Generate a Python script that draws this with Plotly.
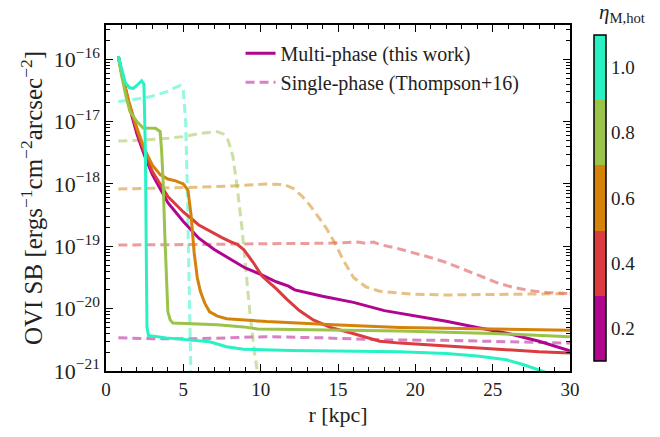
import plotly.graph_objects as go

# ---------------- data ----------------
eta_values = [0.2, 0.4, 0.6, 0.8, 1.0]
eta_labels = ["0.2", "0.4", "0.6", "0.8", "1.0"]
eta_colors = ["#b0058e", "#dc3b3f", "#d4820a", "#9bc34a", "#28f2c4"]

# Multi-phase (solid)
r_m02 = [0.8, 1.0, 1.5, 2.0, 2.5, 3.0, 4.0, 5.0, 6.0, 7.0, 8.0, 9.0, 10.0, 11.0, 11.8, 12.2, 14.0, 16.0, 18.0, 20.0, 22.0, 24.0, 26.0, 28.0, 30.0]
sb_m02 = [1.12e-16, 6.3e-17, 1.78e-17, 6.3e-18, 2.82e-18, 1.41e-18, 5.0e-19, 2.5e-19, 1.35e-19, 8.9e-20, 6.3e-20, 4.5e-20, 3.55e-20, 2.7e-20, 2.3e-20, 2.0e-20, 1.58e-20, 1.26e-20, 9.3e-21, 7.6e-21, 6.3e-21, 5.0e-21, 4.0e-21, 3.0e-21, 2.1e-21]

r_m04 = [0.8, 1.0, 1.5, 2.0, 2.5, 3.0, 4.0, 5.0, 6.0, 7.0, 7.5, 8.0, 8.5, 8.9, 9.5, 10.1, 11.0, 11.7, 12.5, 13.4, 14.5, 15.8, 17.7, 19.0, 22.0, 25.0, 28.0, 30.0]
sb_m04 = [1.12e-16, 6.3e-17, 1.9e-17, 7.1e-18, 3.16e-18, 1.58e-18, 6.3e-19, 3.55e-19, 2.2e-19, 1.58e-19, 1.38e-19, 1.2e-19, 1.07e-19, 8.9e-20, 5.6e-20, 3.3e-20, 2.1e-20, 1.41e-20, 9.3e-21, 6.6e-21, 5.0e-21, 4.1e-21, 3.0e-21, 2.8e-21, 2.5e-21, 2.24e-21, 2.04e-21, 1.95e-21]

r_m06 = [0.8, 1.0, 1.5, 2.0, 2.5, 3.0, 3.5, 4.0, 4.5, 5.0, 5.3, 5.5, 5.7, 5.9, 6.1, 6.4, 6.7, 7.2, 7.8, 9.0, 10.4, 14.7, 19.0, 25.0, 30.0]
sb_m06 = [1.12e-16, 6.3e-17, 2.0e-17, 7.9e-18, 3.55e-18, 2.0e-18, 1.41e-18, 1.2e-18, 1.12e-18, 1.0e-18, 7.9e-19, 3.16e-19, 7.9e-20, 3.16e-20, 1.9e-20, 1.2e-20, 8.9e-21, 7.6e-21, 6.9e-21, 6.5e-21, 6.2e-21, 5.5e-21, 5.0e-21, 4.7e-21, 4.5e-21]

r_m08 = [0.8, 1.0, 1.3, 1.55, 2.0, 2.4, 3.2, 3.5, 3.6, 3.7, 3.8, 3.9, 4.0, 4.15, 4.33, 7.2, 8.9, 9.8, 14.7, 19.0, 25.0, 30.0]
sb_m08 = [1.07e-16, 5.6e-17, 2.5e-17, 1.45e-17, 1.0e-17, 7.9e-18, 7.8e-18, 6.9e-18, 3.3e-18, 1.0e-18, 1.58e-19, 2.5e-20, 8.9e-21, 6.6e-21, 5.9e-21, 5.5e-21, 5.1e-21, 4.7e-21, 4.5e-21, 4.4e-21, 4.0e-21, 3.55e-21]

r_m10 = [0.8, 1.0, 1.25, 1.5, 1.75, 2.0, 2.3, 2.45, 2.55, 2.6, 2.65, 2.75, 3.9, 6.7, 7.8, 8.9, 12.0, 19.0, 22.0, 24.0, 25.9, 27.0, 28.2, 29.0]
sb_m10 = [1.12e-16, 7.1e-17, 4.2e-17, 3.55e-17, 3.4e-17, 3.8e-17, 4.5e-17, 4.0e-17, 3.16e-18, 1.0e-19, 5.0e-21, 3.7e-21, 3.4e-21, 2.95e-21, 2.45e-21, 2.24e-21, 2.14e-21, 2.04e-21, 1.9e-21, 1.74e-21, 1.51e-21, 1.26e-21, 1.0e-21, 8.5e-22]

# Single-phase (dashed)
r_s02 = [0.8, 3.0, 6.0, 10.4, 14.0, 17.7, 22.0, 26.0, 30.0]
sb_s02 = [3.4e-21, 3.3e-21, 3.3e-21, 3.55e-21, 3.4e-21, 3.16e-21, 3.1e-21, 2.95e-21, 2.8e-21]

r_s04 = [0.8, 3.0, 6.1, 10.0, 14.3, 16.3, 16.8, 17.3, 17.7, 18.8, 19.9, 21.0, 22.0, 23.0, 24.2, 25.3, 26.3, 27.4, 28.5, 30.0]
sb_s04 = [1.05e-19, 1.05e-19, 1.07e-19, 1.1e-19, 1.12e-19, 1.17e-19, 1.12e-19, 1.17e-19, 1.07e-19, 9.3e-20, 7.9e-20, 6.6e-20, 5.5e-20, 4.4e-20, 3.3e-20, 2.6e-20, 2.2e-20, 1.95e-20, 1.82e-20, 1.74e-20]

r_s06 = [0.8, 3.0, 6.1, 8.2, 10.4, 11.5, 12.1, 12.7, 13.2, 13.8, 14.3, 14.8, 15.3, 16.0, 16.8, 17.7, 19.9, 22.0, 25.0, 28.0, 30.0]
sb_s06 = [8.3e-19, 8.5e-19, 8.9e-19, 9.3e-19, 1.0e-18, 9.8e-19, 8.5e-19, 6.3e-19, 4.5e-19, 2.8e-19, 1.86e-19, 1.12e-19, 6.3e-20, 3.16e-20, 2.24e-20, 1.9e-20, 1.7e-20, 1.66e-20, 1.7e-20, 1.74e-20, 1.74e-20]

r_s08 = [0.8, 2.0, 4.0, 5.0, 6.1, 7.2, 7.6, 7.9, 8.2, 8.5, 8.8, 9.0, 9.3, 9.6, 9.8, 9.9]
sb_s08 = [4.9e-18, 5.0e-18, 5.4e-18, 5.75e-18, 6.5e-18, 6.9e-18, 6.3e-18, 5.0e-18, 2.8e-18, 8.3e-19, 1.86e-19, 5.0e-20, 8.9e-21, 2.0e-21, 1.0e-21, 6.3e-22]

r_s10 = [0.8, 1.5, 2.84, 3.9, 4.5, 4.8, 5.0, 5.15, 5.25, 5.35, 5.45, 5.5]
sb_s10 = [2.1e-17, 2.2e-17, 2.5e-17, 3.0e-17, 3.55e-17, 3.8e-17, 3.16e-17, 1.0e-17, 1.0e-18, 3.16e-20, 1.58e-21, 6.3e-22]

multi = [(r_m02, sb_m02), (r_m04, sb_m04), (r_m06, sb_m06), (r_m08, sb_m08), (r_m10, sb_m10)]
single = [(r_s02, sb_s02), (r_s04, sb_s04), (r_s06, sb_s06), (r_s08, sb_s08), (r_s10, sb_s10)]

legend_multi = "Multi-phase (this work)"
legend_single = "Single-phase (Thompson+16)"

x_ticks = [0, 5, 10, 15, 20, 25, 30]
y_decades = [1e-21, 1e-20, 1e-19, 1e-18, 1e-17, 1e-16]
y_decade_labels = ["10<sup>−21</sup>", "10<sup>−20</sup>", "10<sup>−19</sup>",
                   "10<sup>−18</sup>", "10<sup>−17</sup>", "10<sup>−16</sup>"]

# ---------------- figure ----------------
FONT = "Liberation Serif"
TXT = "#222"
fig = go.Figure()

for i, (r, sb) in enumerate(single):
    fig.add_trace(go.Scatter(
        x=r, y=sb, mode="lines",
        line=dict(color=eta_colors[i], width=3, dash="9px,5px"),
        opacity=0.5,
        name=legend_single, showlegend=(i == 0), legendrank=2,
    ))

for i, (r, sb) in enumerate(multi):
    fig.add_trace(go.Scatter(
        x=r, y=sb, mode="lines",
        line=dict(color=eta_colors[i], width=3),
        name=legend_multi, showlegend=(i == 0), legendrank=1,
    ))

# discrete colour bar (dummy trace attached to the overlay axis that carries major ticks)
cs = []
n = len(eta_colors)
for i, c in enumerate(eta_colors):
    cs.append([i / n, c])
    cs.append([(i + 1) / n, c])

fig.add_trace(go.Scatter(
    x=[None], y=[None], mode="markers", showlegend=False, hoverinfo="skip",
    yaxis="y2",
    marker=dict(
        color=eta_values, colorscale=cs, cmin=0.1, cmax=1.1, showscale=True,
        colorbar=dict(
            x=1.03, xanchor="left", xref="paper", y=0.5, yanchor="middle", len=1.0,
            thickness=12, outlinewidth=1.5, outlinecolor="black",
            tickvals=eta_values, ticktext=eta_labels,
            ticks="", tickfont=dict(family=FONT, size=19, color=TXT),
        ),
    ),
))

fig.add_annotation(
    text="<i>η</i><sub>M,hot</sub>", xref="paper", yref="paper",
    x=1.112, y=1.035, xanchor="center", yanchor="middle", showarrow=False,
    font=dict(family=FONT, size=21, color=TXT),
)

# log minor tick positions (2..9 in each decade)
y_minor = []
for d in y_decades:
    for m in range(2, 10):
        y_minor.append(m * d)

fig.update_xaxes(
    range=[0, 30], tickvals=x_ticks,
    showline=True, linecolor="black", linewidth=1.5, mirror="ticks",
    ticks="inside", ticklen=7, tickwidth=1.2, tickcolor="black",
    showgrid=False, zeroline=False,
    tickfont=dict(family=FONT, size=19, color=TXT),
    minor=dict(ticks="inside", ticklen=4, dtick=1, tickcolor="black", tickwidth=1),
    title=dict(text="r [kpc]", font=dict(family=FONT, size=22, color=TXT), standoff=8),
)

fig.update_layout(
    yaxis=dict(
        type="log", range=[-21, -15.45],
        tickvals=y_decades + y_minor,
        ticktext=y_decade_labels + [""] * len(y_minor),
        showline=True, linecolor="black", linewidth=1.5, mirror="ticks",
        ticks="inside", ticklen=4, tickwidth=1, tickcolor="black",
        showgrid=False, zeroline=False,
        tickfont=dict(family=FONT, size=22, color=TXT),
        title=dict(text="OVI SB [ergs<sup>−1</sup>cm<sup>−2</sup>arcsec<sup>−2</sup>]",
                   font=dict(family=FONT, size=25, color=TXT), standoff=4),
    ),
    yaxis2=dict(
        type="log", range=[-21, -15.45], overlaying="y", side="left",
        tickvals=y_decades, showticklabels=False,
        showline=False, mirror="ticks",
        ticks="inside", ticklen=7, tickwidth=1.2, tickcolor="black",
        showgrid=False, zeroline=False,
    ),
)

fig.update_layout(
    width=660, height=437,
    margin=dict(l=106, r=90, t=25, b=66),
    plot_bgcolor="white", paper_bgcolor="white",
    legend=dict(x=0.29, y=0.975, xanchor="left", yanchor="top",
                bgcolor="rgba(0,0,0,0)", font=dict(family=FONT, size=20, color=TXT),
                itemwidth=30, tracegroupgap=0),
    showlegend=True,
)

fig.write_html("out.html")
